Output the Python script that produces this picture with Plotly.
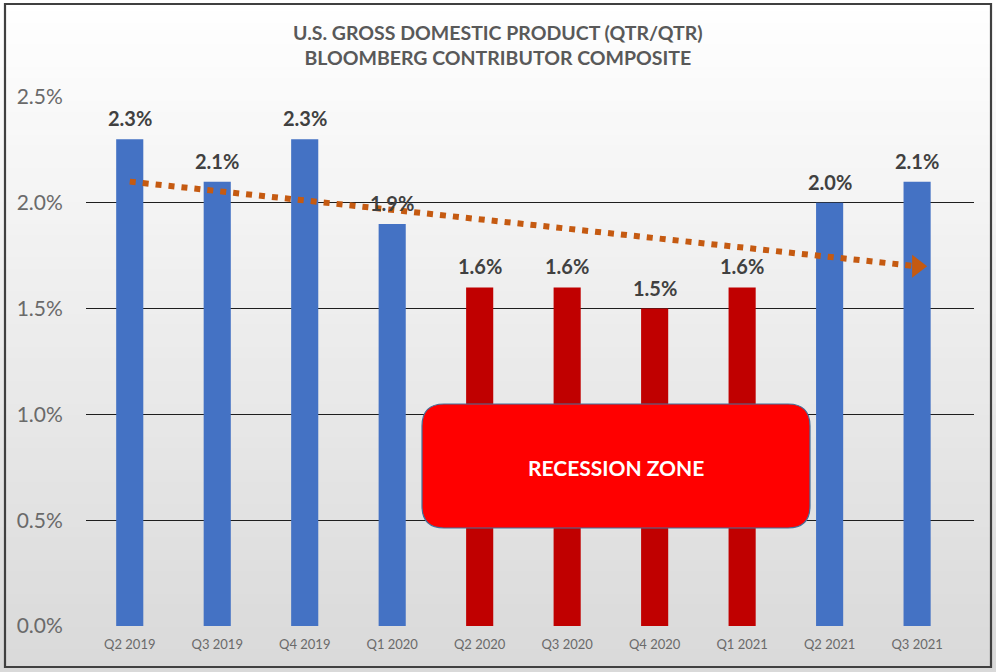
import plotly.graph_objects as go

# ---- data ----
quarters = ["Q2 2019", "Q3 2019", "Q4 2019", "Q1 2020", "Q2 2020",
            "Q3 2020", "Q4 2020", "Q1 2021", "Q2 2021", "Q3 2021"]
gdp = [2.3, 2.1, 2.3, 1.9, 1.6, 1.6, 1.5, 1.6, 2.0, 2.1]
recession = [False, False, False, False, True, True, True, True, False, False]
trend_x = ["Q2 2019", "Q3 2021"]
trend_y = [2.1, 1.7]
y_ticks = [0.0, 0.5, 1.0, 1.5, 2.0, 2.5]
y_tick_labels = ["0.0%", "0.5%", "1.0%", "1.5%", "2.0%", "2.5%"]

# ---- layout geometry (pixels) ----
W, H = 996, 672
L, R, T, B = 86, 22, 97, 46
PW, PH = W - L - R, H - T - B

def px(x):
    return (x - L) / PW

def py(y):
    return (H - B - y) / PH

BLUE = "#4472C4"
DARKRED = "#C00000"
FONT = "Lato"

fig = go.Figure()
fig.add_trace(go.Bar(
    x=quarters, y=gdp,
    marker=dict(color=[DARKRED if r else BLUE for r in recession], line=dict(width=0)),
    width=0.31, hoverinfo="x+y", showlegend=False,
))
fig.add_trace(go.Scatter(
    x=trend_x, y=trend_y, mode="lines",
    line=dict(color="#C55A11", width=6, dash="6px,7px"),
    showlegend=False, hoverinfo="skip",
))
fig.add_trace(go.Scatter(
    x=[trend_x[-1]], y=[trend_y[-1]], mode="markers",
    marker=dict(symbol="triangle-right", size=20, color="#C55A11"),
    showlegend=False, hoverinfo="skip",
))

shapes = []
# background gradient
n = 60
top_c = (255, 255, 255)
bot_c = (217, 217, 217)
for i in range(n):
    f = (i + 0.5) / n
    c = tuple(round(top_c[k] + (bot_c[k] - top_c[k]) * f) for k in range(3))
    y0 = i * H / n
    y1 = (i + 1) * H / n + 1
    shapes.append(dict(type="rect", xref="paper", yref="paper",
                       x0=px(0), x1=px(W), y0=py(y0), y1=py(y1),
                       fillcolor="rgb(%d,%d,%d)" % c, line=dict(width=0), layer="below"))
# outer border
shapes.append(dict(type="rect", xref="paper", yref="paper",
                   x0=px(5), x1=px(991), y0=py(4), y1=py(667),
                   line=dict(color="#404040", width=2.2), fillcolor="rgba(0,0,0,0)", layer="above"))
# recession zone rounded box
bx0, bx1, by0, by1, rr = 422, 810, 404, 528, 22
def P(x, y):
    return "%f,%f" % (px(x), py(y))
path = ("M " + P(bx0 + rr, by0) + " L " + P(bx1 - rr, by0) +
        " Q " + P(bx1, by0) + " " + P(bx1, by0 + rr) +
        " L " + P(bx1, by1 - rr) +
        " Q " + P(bx1, by1) + " " + P(bx1 - rr, by1) +
        " L " + P(bx0 + rr, by1) +
        " Q " + P(bx0, by1) + " " + P(bx0, by1 - rr) +
        " L " + P(bx0, by0 + rr) +
        " Q " + P(bx0, by0) + " " + P(bx0 + rr, by0) + " Z")
shapes.append(dict(type="path", xref="paper", yref="paper", path=path,
                   fillcolor="#FF0000", line=dict(color="#41719C", width=1.2), layer="above"))

annotations = []
for q, v in zip(quarters, gdp):
    annotations.append(dict(x=q, y=v, xref="x", yref="y", text="<b>%.1f%%</b>" % v,
                            showarrow=False, yshift=21,
                            font=dict(family=FONT, size=20, color="#404040")))
annotations.append(dict(x=px(616), y=py(467), xref="paper", yref="paper",
                        xanchor="center", yanchor="middle",
                        text="<b>RECESSION ZONE</b>", showarrow=False,
                        font=dict(family=FONT, size=21, color="white")))
annotations.append(dict(x=0.5 * (px(0) + px(W)), y=py(45), xref="paper", yref="paper",
                        xanchor="center", yanchor="middle",
                        text="<b>U.S. GROSS DOMESTIC PRODUCT (QTR/QTR)<br>BLOOMBERG CONTRIBUTOR COMPOSITE</b>",
                        showarrow=False, align="center",
                        font=dict(family=FONT, size=19.5, color="#595959")))

fig.update_layout(
    width=W, height=H,
    margin=dict(l=L, r=R, t=T, b=B),
    paper_bgcolor="rgba(0,0,0,0)", plot_bgcolor="rgba(0,0,0,0)",
    shapes=shapes, annotations=annotations,
    xaxis=dict(type="category", showgrid=False, zeroline=False, showline=False,
               tickfont=dict(family=FONT, size=13, color="#6A6A6A"),
               ticks="outside", ticklen=6, tickcolor="rgba(0,0,0,0)"),
    yaxis=dict(range=[0, 2.5], tickvals=y_ticks, ticktext=y_tick_labels,
               showgrid=True, gridcolor="#1E1E1E", gridwidth=1.3,
               zeroline=False, showline=False,
               ticks="outside", ticklen=18, tickcolor="rgba(0,0,0,0)",
               tickfont=dict(family=FONT, size=21, color="#6A6A6A")),
)

fig.write_html("out.html", config={"displayModeBar": False},
               post_script="document.body.style.margin='0';document.body.style.overflow='hidden';")
